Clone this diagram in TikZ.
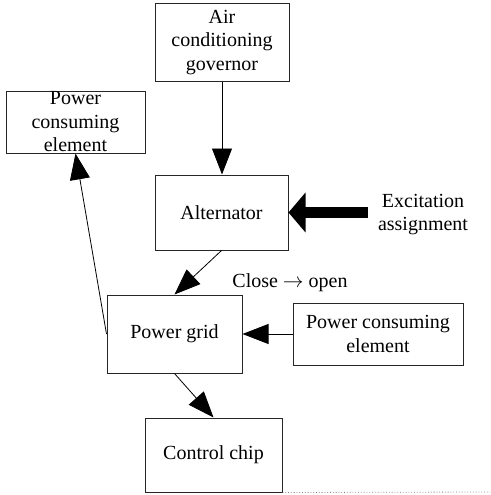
\documentclass[tikz,border=0pt]{standalone}
\usepackage{fontspec}
\setmainfont{Liberation Serif}
\usetikzlibrary{arrows.meta,calc}
\begin{document}
\begin{tikzpicture}[x=1pt,y=-1pt,
  every node/.style={font=\fontsize{20}{23.5}\selectfont},
  blk/.style={draw=black!85,line width=1pt,inner sep=0pt,align=center},
  conn/.style={line width=0.8pt,-{Triangle[length=26pt,width=20pt]}},
  bigarrow/.style={line width=11pt,-{Triangle[length=17pt,width=39pt]}}]
\useasboundingbox (0,0) rectangle (490,495);
\node[blk,minimum width=134pt,minimum height=77pt] (gov) at (222,42.5) {Air\\conditioning\\governor};
\node[blk,minimum width=133pt,minimum height=75pt] (alt) at (221.5,212.5) {Alternator};
\node[blk,minimum width=139pt,minimum height=62pt,
      label={[align=center,inner sep=0pt]center:Power\\consuming\\element}] (left) at (75.5,122) {};
\node[blk,minimum width=135pt,minimum height=78pt] (grid) at (174.5,334) {Power grid};
\node[blk,minimum width=170pt,minimum height=62pt] (right) at (378,334) {Power consuming\\element};
\node[blk,minimum width=137pt,minimum height=74pt] (chip) at (213.5,455) {Control chip};
\node[align=center,inner sep=0pt] (exc) at (423,214.5) {Excitation\\assignment};
\node[inner sep=0pt] (close) at (290,283) {Close $\rightarrow$ open};
\coordinate (excstart) at (368,212.5);
\coordinate (dotend) at (490,492);
\draw[conn] (gov.south) -- (gov.south |- alt.north);
\draw[conn] (alt.south) -- (grid.north);
\draw[conn] (grid.south) -- (chip.north);
\draw[conn] (right.west) -- (grid.east);
\draw[conn] (grid.west) -- (left.south);
\draw[bigarrow] (excstart) -- (alt.east);
\draw[gray,dotted,line width=0.8pt] (chip.south east) -- (dotend);
\end{tikzpicture}
\end{document}
